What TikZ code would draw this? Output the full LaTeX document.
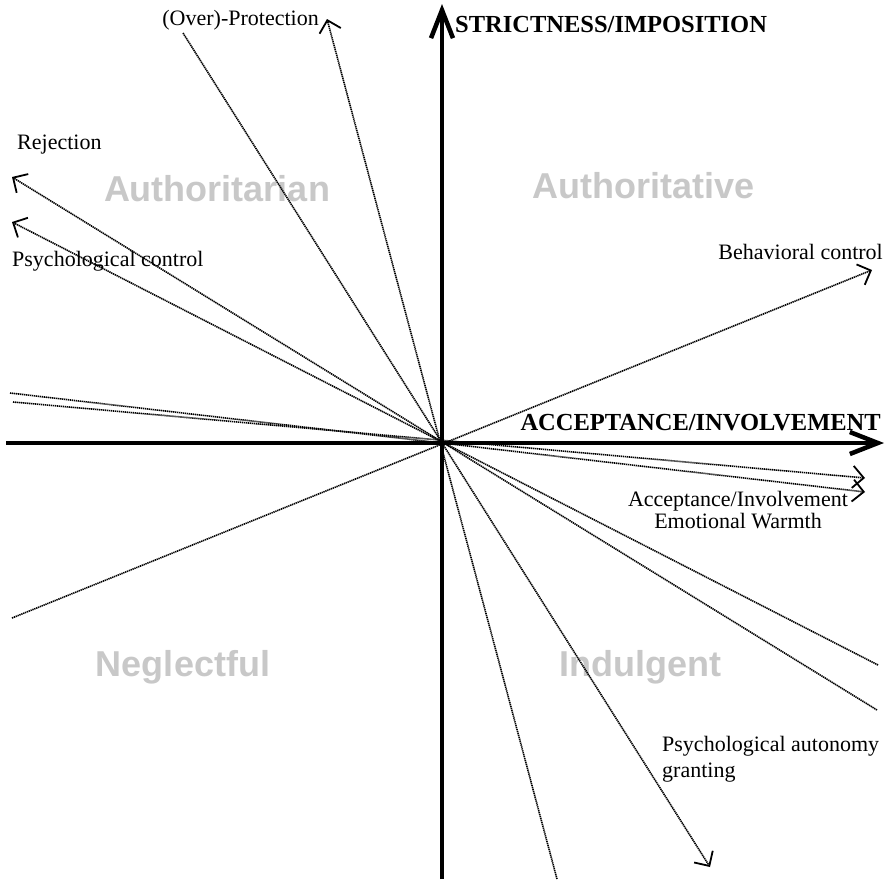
\documentclass[tikz,border=0pt]{standalone}
\usepackage{fontspec}
\setmainfont{Liberation Serif}
\newfontfamily\stylefont{Liberation Sans}
\usepackage{tikz}
\usetikzlibrary{arrows.meta}
\usetikzlibrary{positioning,calc}

\definecolor{stylegray}{RGB}{200,200,200}

\begin{document}
\begin{tikzpicture}[
         x=1pt, y=-1pt,
         axis/.style = {line width=4.5pt, -{Straight Barb[length=28pt,width=22pt]}},
         dim/.style = {dash pattern=on 1.3pt off 0.7pt, line width=1.6pt,
         -{Straight Barb[length=11pt,width=22pt,line width=1.8pt]}},
         lbl/.style = {inner sep=0pt, font=\fontsize{22}{22}\selectfont},
         axlbl/.style = {inner sep=0pt, font=\fontsize{24.5}{26}\selectfont\bfseries},
         stylelbl/.style = {inner sep=0pt, text=stylegray,
         font=\fontsize{36}{36}\selectfont\stylefont\bfseries}
]
         \useasboundingbox (0,0) rectangle (887,879);

         \coordinate (O) at (442,443);

         % axes
         \coordinate (xL) at (6,443);
         \coordinate (xR) at (884,443);
         \coordinate (yB) at (442,879);
         \coordinate (yT) at (442,4);
         \draw[axis] (xL) -- (xR);
         \draw[axis] (yB) -- (yT);
         \node[axlbl, anchor=base west] (strict) at (455,32) {STRICTNESS/IMPOSITION};
         \node[axlbl, anchor=base east] (accept) at (881,430) {ACCEPTANCE/INVOLVEMENT};

         % parenting styles
         \node[stylelbl, anchor=base] (authoritarian) at (217,201) {Authoritarian};
         \node[stylelbl, anchor=base] (authoritative) at (644,198) {Authoritative};
         \node[stylelbl, anchor=base] (neglectful) at (183,676) {Neglectful};
         \node[stylelbl, anchor=base] (indulgent) at (640,676) {Indulgent};

         % dimension ends
         \coordinate (protA) at (557,879);   \coordinate (protB) at (327,19);
         \coordinate (autoA) at (183,33);    \coordinate (autoB) at (710,867);
         \coordinate (rejA) at (877,710);    \coordinate (rejB) at (12,177);
         \coordinate (psyA) at (878,665);    \coordinate (psyB) at (12,222);
         \coordinate (behA) at (12,618);     \coordinate (behB) at (872,270);
         \coordinate (accA) at (10,393);     \coordinate (accB) at (865,492);
         \coordinate (warmA) at (13,402);    \coordinate (warmB) at (865,478);

         \draw[dim] (protA) -- (protB);
         \draw[dim] (autoA) -- (autoB);
         \draw[dim] (rejA) -- (rejB);
         \draw[dim] (psyA) -- (psyB);
         \draw[dim] (behA) -- (behB);
         \draw[dim] (accA) -- (accB);
         \draw[dim] (warmA) -- (warmB);

         % dimension labels
         \node[lbl, anchor=base east] (protLbl) at (319,25) {(Over)-Protection};
         \node[lbl, anchor=base west] (rejLbl) at (17,149) {Rejection};
         \node[lbl, anchor=base west] (psyLbl) at (12,266) {Psychological control};
         \node[lbl, anchor=base east] (behLbl) at (883,259) {Behavioral control};
         \node[lbl, anchor=north, align=center] (accLbl) at (738,491)
         {Acceptance/Involvement\\Emotional Warmth};
         \node[lbl, anchor=north west, align=left,
         font=\fontsize{22}{26}\selectfont] (autoLbl) at (662,736)
         {Psychological autonomy\\granting};
\end{tikzpicture}
\end{document}
